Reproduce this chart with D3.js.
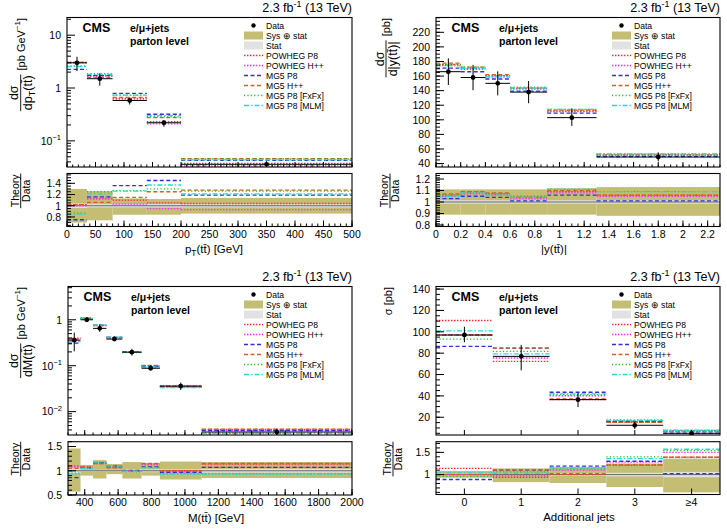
<!DOCTYPE html>
<html>
<head>
<meta charset="utf-8">
<script src="https://cdnjs.cloudflare.com/ajax/libs/d3/7.8.5/d3.min.js"></script>
<style>
body { margin: 0; background: #fff; }
svg text { font-family: "Liberation Sans", Arial, Helvetica, sans-serif; fill: #000; }
</style>
</head>
<body>
<div id="chart"></div>
<script>
// generator predictions shown in every panel
const models = ["POWHEG P8", "POWHEG H++", "MG5 P8", "MG5 H++", "MG5 P8 [FxFx]", "MG5 P8 [MLM]"];
const modelColors = ["#ff3030", "#ff30ff", "#3030e0", "#d2601e", "#20c020", "#20dcdc"];
const modelDashes = ["1.5,1.5", "1.5,1.5", "4,2.5", "4,2.5", "1.2,2.2", "5,2,1.5,2"];
const sysColor = "#c4bd74", statColor = "#e2e2e2";

// top left : pT(tt)
const ptEdges = [0, 35, 80, 140, 200, 500];
const ptData = [3.0, 1.5, 0.58, 0.22, 0.036];
const ptSysUp = [0.30, 0.26, 0.13, 0.12, 0.14];
const ptSysDn = [0.30, 0.26, 0.16, 0.16, 0.14];
const ptStat = [0.04, 0.03, 0.03, 0.03, 0.03];
const ptRatio = [
    [1.02, 1.13, 1.10, 1.05, 1.04],
    [1.00, 1.12, 1.03, 0.95, 0.93],
    [0.75, 1.16, 1.36, 1.45, 1.19],
    [1.02, 1.06, 1.15, 1.25, 1.28],
    [0.87, 1.25, 1.27, 1.30, 1.26],
    [0.85, 1.21, 1.26, 1.37, 1.21]
];

// top right : |y(tt)|
const yEdges = [0, 0.2, 0.4, 0.6, 0.9, 1.3, 2.3];
const yData = [166, 158, 150, 138, 103, 49];
const ySysUp = [0.11, 0.11, 0.11, 0.11, 0.12, 0.13];
const ySysDn = [0.11, 0.11, 0.11, 0.11, 0.11, 0.12];
const yStat = [0.015, 0.015, 0.015, 0.015, 0.015, 0.015];
const yRatio = [
    [1.06, 1.08, 1.07, 1.04, 1.09, 1.06],
    [1.05, 1.07, 1.06, 1.03, 1.08, 1.05],
    [1.03, 1.05, 1.04, 1.01, 1.06, 1.01],
    [1.07, 1.09, 1.08, 1.04, 1.10, 1.06],
    [1.06, 1.09, 1.07, 1.05, 1.11, 1.09],
    [1.05, 1.08, 1.06, 1.04, 1.11, 1.09]
];

// bottom left : M(tt)
const mEdges = [300, 375, 450, 530, 625, 740, 850, 1100, 2000];
const mData = [0.36, 1.0, 0.65, 0.38, 0.197, 0.088, 0.036, 0.0036];
const mSysUp = [0.46, 0.12, 0.22, 0.14, 0.18, 0.16, 0.19, 0.18];
const mSysDn = [0.43, 0.10, 0.16, 0.07, 0.16, 0.10, 0.18, 0.15];
const mStat = [0.05, 0.02, 0.02, 0.02, 0.03, 0.03, 0.03, 0.04];
const mRatio = [
    [1.10, 1.08, 1.15, 1.07, 1.00, 1.14, 1.00, 1.14],
    [1.08, 1.07, 1.16, 1.08, 1.00, 1.12, 0.98, 1.07],
    [0.86, 1.06, 1.17, 1.10, 1.01, 1.08, 0.97, 1.07],
    [1.05, 1.08, 1.15, 1.06, 0.99, 1.15, 1.00, 1.15],
    [0.95, 1.05, 1.18, 1.08, 0.98, 1.07, 0.94, 0.94],
    [0.93, 1.05, 1.18, 1.10, 0.99, 1.06, 0.93, 0.93]
];

// bottom right : additional jets
const jetCats = ["0", "1", "2", "3", "\u22654"];
const jetData = [97, 77, 36.5, 12.5, 5.0];
const jetSysUp = [0.08, 0.14, 0.17, 0.25, 0.36];
const jetSysDn = [0.07, 0.17, 0.19, 0.28, 0.40];
const jetStat = [0.02, 0.02, 0.03, 0.04, 0.06];
const jetRatio = [
    [1.14, 0.94, 1.00, 1.21, 1.39],
    [1.00, 0.98, 1.10, 1.28, 1.50],
    [0.89, 1.10, 1.19, 1.30, 1.02],
    [1.00, 1.10, 1.02, 1.22, 1.39],
    [0.96, 1.06, 1.13, 1.40, 1.54],
    [1.04, 1.03, 1.15, 1.36, 1.57]
];

var svg = d3.select("#chart").append("svg")
    .attr("width", 727)
    .attr("height", 530);

// text with sub/superscripts, parts = [[string, "sub"|"sup"|undefined], ...]
function rich(text, parts, fs) {
    var cur = 0;
    parts.forEach(function (p) {
        var off = p[1] === "sup" ? -0.4 * fs : p[1] === "sub" ? 0.28 * fs : 0;
        text.append("tspan")
            .attr("dy", off - cur)
            .style("font-size", p[1] ? (0.72 * fs) + "px" : null)
            .text(p[0]);
        cur = off;
    });
    return text;
}

// rotated ROOT-like axis title, right aligned to topY
function yTitle(px, topY, num, den, tail, ff, fs) {
    var g = svg.append("g").attr("transform", "translate(" + px + ",0) rotate(-90)");
    var w = 0, dw = 0, denT, numT, tailT, tw = 0;
    if (den) {
        denT = rich(g.append("text").attr("y", ff * 0.9).style("font-size", ff + "px"), den, ff);
        numT = rich(g.append("text").attr("y", -ff * 0.2).attr("text-anchor", "middle").style("font-size", ff + "px"), num, ff);
        dw = denT.node().getComputedTextLength();
        w = Math.max(dw, numT.node().getComputedTextLength()) + 2;
    }
    if (tail) {
        tailT = rich(g.append("text").attr("y", den ? fs * 0.35 : 0).style("font-size", fs + "px"), tail, fs);
        tw = tailT.node().getComputedTextLength();
    }
    var gap = den && tail ? 4 : 0;
    var s = -(topY + w + gap + tw);
    if (den) {
        denT.attr("x", s + (w - dw) / 2);
        numT.attr("x", s + w / 2);
        g.append("line").attr("x1", s).attr("x2", s + w).attr("y1", 0).attr("y2", 0)
            .attr("stroke", "#000").attr("stroke-width", 0.9);
    }
    if (tail) tailT.attr("x", s + w + gap);
}

function logLabel(text, v, fs) {
    var e = Math.round(Math.log10(v));
    if (e === 0) text.text("1");
    else if (e === 1) text.text("10");
    else rich(text, [["10"], ["\u2212" + (-e), "sup"]], fs);
}

function drawPanel(p) {
    var g = svg.append("g");
    var n = p.data.length;
    var binL, binR, binC;
    if (p.cats) {
        var band = d3.scaleBand().domain(p.cats).range([p.x0, p.x1]).padding(0);
        binL = function (i) { return band(p.cats[i]); };
        binR = function (i) { return band(p.cats[i]) + band.bandwidth(); };
    } else {
        var x = d3.scaleLinear().domain(p.xDomain).range([p.x0, p.x1]);
        binL = function (i) { return x(p.edges[i]); };
        binR = function (i) { return x(p.edges[i + 1]); };
    }
    binC = function (i) { return (binL(i) + binR(i)) / 2; };

    var yM = (p.yLog ? d3.scaleLog() : d3.scaleLinear()).domain(p.yDomain).range([p.bottom, p.top]);
    var yR = d3.scaleLinear().domain(p.rDomain).range([p.rBottom, p.rTop]);
    var idx = d3.range(n);

    var defs = g.append("defs");
    defs.append("clipPath").attr("id", p.key + "m").append("rect")
        .attr("x", p.x0).attr("y", p.top).attr("width", p.x1 - p.x0).attr("height", p.bottom - p.top);
    defs.append("clipPath").attr("id", p.key + "r").append("rect")
        .attr("x", p.x0).attr("y", p.rTop).attr("width", p.x1 - p.x0).attr("height", p.rBottom - p.rTop);

    // ratio panel
    var rg = g.append("g").attr("clip-path", "url(#" + p.key + "r)");
    rg.selectAll(null).data(idx).join("rect")
        .attr("x", binL).attr("width", function (i) { return binR(i) - binL(i); })
        .attr("y", function (i) { return yR(1 + p.sysUp[i]); })
        .attr("height", function (i) { return yR(1 - p.sysDn[i]) - yR(1 + p.sysUp[i]); })
        .attr("fill", sysColor);
    rg.selectAll(null).data(idx).join("rect")
        .attr("x", binL).attr("width", function (i) { return binR(i) - binL(i); })
        .attr("y", function (i) { return yR(1 + p.stat[i]); })
        .attr("height", function (i) { return yR(1 - p.stat[i]) - yR(1 + p.stat[i]); })
        .attr("fill", statColor);
    rg.append("line").attr("x1", p.x0).attr("x2", p.x1).attr("y1", yR(1)).attr("y2", yR(1))
        .attr("stroke", "#666").attr("stroke-width", 1);
    models.forEach(function (m, k) {
        rg.selectAll(null).data(idx).join("line")
            .attr("x1", binL).attr("x2", binR)
            .attr("y1", function (i) { return yR(p.ratio[k][i]); })
            .attr("y2", function (i) { return yR(p.ratio[k][i]); })
            .attr("stroke", modelColors[k]).attr("stroke-width", 1.3)
            .attr("stroke-dasharray", modelDashes[k]);
    });

    // main panel: predictions = ratio x data
    var mg = g.append("g").attr("clip-path", "url(#" + p.key + "m)");
    models.forEach(function (m, k) {
        mg.selectAll(null).data(idx).join("line")
            .attr("x1", binL).attr("x2", binR)
            .attr("y1", function (i) { return yM(p.data[i] * p.ratio[k][i]); })
            .attr("y2", function (i) { return yM(p.data[i] * p.ratio[k][i]); })
            .attr("stroke", modelColors[k]).attr("stroke-width", 1.3)
            .attr("stroke-dasharray", modelDashes[k]);
    });
    mg.selectAll(null).data(idx).join("line")
        .attr("x1", binL).attr("x2", binR)
        .attr("y1", function (i) { return yM(p.data[i]); })
        .attr("y2", function (i) { return yM(p.data[i]); })
        .attr("stroke", "#000").attr("stroke-width", 1);
    mg.selectAll(null).data(idx).join("line")
        .attr("x1", binC).attr("x2", binC)
        .attr("y1", function (i) { return yM(p.data[i] * (1 + p.sysUp[i])); })
        .attr("y2", function (i) { return yM(p.data[i] * (1 - p.sysDn[i])); })
        .attr("stroke", "#000").attr("stroke-width", 1);
    mg.selectAll(null).data(idx).join("circle")
        .attr("cx", binC).attr("cy", function (i) { return yM(p.data[i]); })
        .attr("r", 2.4).attr("fill", "#000");

    // frames
    [[p.top, p.bottom], [p.rTop, p.rBottom]].forEach(function (f) {
        g.append("rect").attr("x", p.x0).attr("y", f[0]).attr("width", p.x1 - p.x0).attr("height", f[1] - f[0])
            .attr("fill", "none").attr("stroke", "#000").attr("stroke-width", 1.1);
    });

    // y ticks, main
    var yMinor = p.yLog ? [] : p.yMinor;
    if (p.yLog) {
        d3.range(-4, 3).forEach(function (e) {
            d3.range(2, 10).forEach(function (m) { yMinor.push(m * Math.pow(10, e)); });
        });
    }
    var inM = function (v) { return v >= p.yDomain[0] && v <= p.yDomain[1]; };
    g.selectAll(null).data(yMinor.filter(inM)).join("line")
        .attr("x1", p.x0).attr("x2", p.x0 + 4).attr("y1", yM).attr("y2", yM).attr("stroke", "#000");
    g.selectAll(null).data(p.yMajor).join("line")
        .attr("x1", p.x0).attr("x2", p.x0 + 8).attr("y1", yM).attr("y2", yM).attr("stroke", "#000");
    g.selectAll(null).data(p.yMajor).join("text")
        .attr("x", p.x0 - 6).attr("y", function (d) { return yM(d) + 3.8; })
        .attr("text-anchor", "end").style("font-size", "10.5px")
        .each(function (d) {
            if (p.yLog) logLabel(d3.select(this), d, 10.5);
            else d3.select(this).text(d);
        });

    // y ticks, ratio
    var inR = function (v) { return v >= p.rDomain[0] && v <= p.rDomain[1]; };
    g.selectAll(null).data(p.rMinor.filter(inR)).join("line")
        .attr("x1", p.x0).attr("x2", p.x0 + 4).attr("y1", yR).attr("y2", yR).attr("stroke", "#000");
    g.selectAll(null).data(p.rMajor).join("line")
        .attr("x1", p.x0).attr("x2", p.x0 + 8).attr("y1", yR).attr("y2", yR).attr("stroke", "#000");
    g.selectAll(null).data(p.rMajor).join("text")
        .attr("x", p.x0 - 6).attr("y", function (d) { return yR(d) + 3.8; })
        .attr("text-anchor", "end").style("font-size", "10.5px")
        .text(d3.format("~g"));

    // x ticks
    var xMaj, xMin, xLab;
    if (p.cats) {
        xMaj = idx.map(binC); xMin = []; xLab = p.cats;
    } else {
        xMaj = p.xMajor.map(x); xMin = p.xMinor.map(x); xLab = p.xMajor.map(d3.format("~g"));
    }
    [[p.bottom, 5, 2.5], [p.rBottom, 6, 3]].forEach(function (b) {
        g.selectAll(null).data(xMin).join("line")
            .attr("x1", function (d) { return d; }).attr("x2", function (d) { return d; })
            .attr("y1", b[0]).attr("y2", b[0] - b[2]).attr("stroke", "#000");
        g.selectAll(null).data(xMaj).join("line")
            .attr("x1", function (d) { return d; }).attr("x2", function (d) { return d; })
            .attr("y1", b[0]).attr("y2", b[0] - b[1]).attr("stroke", "#000");
    });
    g.selectAll(null).data(xMaj).join("text")
        .attr("x", function (d) { return d; }).attr("y", p.rBottom + 11)
        .attr("text-anchor", "middle").style("font-size", "10.5px")
        .text(function (d, i) { return xLab[i]; });

    // axis titles
    rich(g.append("text").attr("x", p.xTitleX).attr("y", p.rBottom + 26.5)
        .attr("text-anchor", "middle").style("font-size", "11.5px"), p.xTitle, 11.5);
    yTitle(p.yTitleX, p.top + 0.5, p.yNum, p.yDen, p.yTail, 12.5, 11);
    yTitle(p.rTitleX, p.rTop, [["Theory"]], [["Data"]], null, 10.5, 10.5);

    // header texts
    rich(g.append("text").attr("x", p.x1).attr("y", p.top - 5.5).attr("text-anchor", "end")
        .style("font-size", "12.5px"), [["2.3 fb"], ["-1", "sup"], [" (13 TeV)"]], 12.5);
    g.append("text").attr("x", p.x0 + 15.5).attr("y", p.top + 14)
        .style("font-size", "12.5px").style("font-weight", "bold").text("CMS");
    g.append("text").attr("x", p.x0 + 63).attr("y", p.top + 14)
        .style("font-size", "10.5px").style("font-weight", "bold").text("e/\u03bc+jets");
    g.append("text").attr("x", p.x0 + 63).attr("y", p.top + 27)
        .style("font-size", "10.5px").style("font-weight", "bold").text("parton level");

    // legend
    var lx0 = p.x1 - 108, lx1 = p.x1 - 89, ly = p.top + 8;
    var legend = g.append("g").attr("class", "legend");
    var rows = ["Data", "Sys \u2295 stat", "Stat"].concat(models);
    legend.selectAll("text").data(rows).join("text")
        .attr("x", p.x1 - 86).attr("y", function (d, i) { return ly + i * 10 + 3.2; })
        .style("font-size", "8.6px").text(function (d) { return d; });
    legend.append("circle").attr("cx", (lx0 + lx1) / 2).attr("cy", ly).attr("r", 2.2).attr("fill", "#000");
    legend.append("rect").attr("x", lx0).attr("y", ly + 10 - 4).attr("width", lx1 - lx0).attr("height", 8).attr("fill", sysColor);
    legend.append("rect").attr("x", lx0).attr("y", ly + 20 - 4).attr("width", lx1 - lx0).attr("height", 8).attr("fill", statColor);
    models.forEach(function (m, k) {
        var yy = ly + (k + 3) * 10;
        legend.append("line").attr("x1", lx0).attr("x2", lx1).attr("y1", yy).attr("y2", yy)
            .attr("stroke", modelColors[k]).attr("stroke-width", 1.3).attr("stroke-dasharray", modelDashes[k]);
    });
}

var panels = [
    {
        key: "pt", x0: 67, x1: 352, top: 17.5, bottom: 167, rTop: 173.5, rBottom: 226.5,
        xDomain: [0, 500], edges: ptEdges, data: ptData, sysUp: ptSysUp, sysDn: ptSysDn, stat: ptStat, ratio: ptRatio,
        yLog: true, yDomain: [0.032, 21.6], yMajor: [0.1, 1, 10],
        xMajor: d3.range(0, 501, 50), xMinor: d3.range(0, 501, 10),
        rDomain: [0.63, 1.575], rMajor: [0.8, 1, 1.2, 1.4], rMinor: d3.range(0.65, 1.58, 0.05),
        xTitle: [["p"], ["T", "sub"], ["(tt\u0304) [GeV]"]], xTitleX: 214,
        yNum: [["d\u03c3"]], yDen: [["dp"], ["T", "sub"], ["(tt\u0304)"]], yTail: [["[pb GeV"], ["\u22121", "sup"], ["]"]],
        yTitleX: 20.7, rTitleX: 20.7
    },
    {
        key: "yy", x0: 436, x1: 720, top: 17.5, bottom: 167, rTop: 173.5, rBottom: 226.5,
        xDomain: [0, 2.3], edges: yEdges, data: yData, sysUp: ySysUp, sysDn: ySysDn, stat: yStat, ratio: yRatio,
        yLog: false, yDomain: [35.3, 240.3], yMajor: d3.range(40, 221, 20), yMinor: d3.range(35, 241, 5),
        xMajor: d3.range(0, 2.21, 0.2), xMinor: d3.range(0, 2.31, 0.05),
        rDomain: [0.787, 1.248], rMajor: [0.8, 0.9, 1, 1.1, 1.2], rMinor: d3.range(0.79, 1.25, 0.02),
        xTitle: [["|y(tt\u0304)|"]], xTitleX: 554,
        yNum: [["d\u03c3"]], yDen: [["d|y(tt\u0304)|"]], yTail: [["[pb]"]],
        yTitleX: 386, rTitleX: 390
    },
    {
        key: "mm", x0: 68, x1: 352, top: 286.5, bottom: 435, rTop: 441.7, rBottom: 495,
        xDomain: [300, 2000], edges: mEdges, data: mData, sysUp: mSysUp, sysDn: mSysDn, stat: mStat, ratio: mRatio,
        yLog: true, yDomain: [0.0031, 5.3], yMajor: [0.01, 0.1, 1],
        xMajor: d3.range(400, 2001, 200), xMinor: d3.range(300, 2001, 50),
        rDomain: [0.5, 1.6], rMajor: [0.5, 1, 1.5], rMinor: d3.range(0.5, 1.61, 0.1),
        xTitle: [["M(tt\u0304) [GeV]"]], xTitleX: 216,
        yNum: [["d\u03c3"]], yDen: [["dM(tt\u0304)"]], yTail: [["[pb GeV"], ["\u22121", "sup"], ["]"]],
        yTitleX: 20.7, rTitleX: 20.7
    },
    {
        key: "nj", x0: 436, x1: 720, top: 286.5, bottom: 435, rTop: 441.7, rBottom: 494.5,
        cats: jetCats, data: jetData, sysUp: jetSysUp, sysDn: jetSysDn, stat: jetStat, ratio: jetRatio,
        yLog: false, yDomain: [3.4, 142.4], yMajor: d3.range(20, 141, 20), yMinor: d3.range(5, 141, 5),
        rDomain: [0.552, 1.74], rMajor: [1, 1.5], rMinor: d3.range(0.6, 1.75, 0.1),
        xTitle: [["Additional jets"]], xTitleX: 579,
        yNum: null, yDen: null, yTail: [["\u03c3 [pb]"]],
        yTitleX: 392, rTitleX: 393
    }
];

panels.forEach(drawPanel);
</script>
</body>
</html>
